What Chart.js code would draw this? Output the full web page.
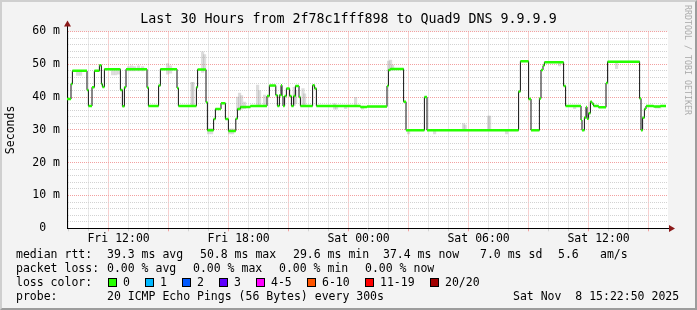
<html lang="en">
<head>
  <meta charset="UTF-8">
  <title>Quad9 DNS</title>
  <style>
    body { margin: 0; background: #fff; }
    #wrap { position: relative; width: 697px; height: 310px; background: #f3f3f3; font-family: "DejaVu Sans Mono", monospace; color: #000; }
    #wrap canvas { position: absolute; left: 0; top: 0; }
    .t { position: absolute; white-space: pre; font-size: 11.5px; line-height: 14px; }
    .box { position: absolute; width: 7px; height: 7px; border: 1px solid #000; }
    #frame { position: absolute; left: 0; top: 0; width: 697px; height: 310px; box-sizing: border-box;
      border-top: 2px solid #cfcfcf; border-left: 2px solid #cfcfcf; border-right: 2px solid #9c9c9c; border-bottom: 2px solid #9c9c9c; }
  </style>
</head>
<body>
<div id="wrap">
  <canvas id="chart" width="697" height="310"></canvas>
  <div class="t" style="left:0;width:697px;top:11px;font-size:13.3px;line-height:16px;text-align:center">Last 30 Hours from 2f78c1fff898 to Quad9 DNS 9.9.9.9</div>
  <div class="t" style="left:681px;top:5px;font-size:8.3px;line-height:10px;color:#ababab;transform-origin:0 0;transform:translate(12px,0) rotate(90deg)">RRDTOOL / TOBI OETIKER</div>
  <div id="legend"></div>
  <div id="frame"></div>
</div>
<script src="https://cdn.jsdelivr.net/npm/chart.js"></script>
<script>
  // time in hours since Fri 00:00, median rtt in ms
  const stepTimes = [9.42, 9.62, 9.69, 10.42, 10.49, 10.67, 10.79, 11.04, 11.14, 11.19, 11.29,
    12.09, 12.19, 12.29, 12.37, 13.42, 13.49, 14.00, 14.09, 14.92, 14.99, 15.89, 15.95,
    16.37, 16.44, 16.75, 16.84, 17.12, 17.34, 17.49, 17.86, 17.94, 18.09, 18.59,
    19.42, 19.54, 19.86, 19.94, 20.04, 20.12, 20.17, 20.22, 20.30, 20.39, 20.55, 20.64,
    20.75, 20.84, 21.02, 21.09, 21.70, 21.80, 21.89, 24.09, 24.42, 25.42, 25.49, 25.59,
    26.25, 26.37, 27.29, 27.42, 32.00, 32.09, 32.50, 32.62, 33.04, 33.12, 33.22, 33.29,
    34.25, 34.35, 35.12, 35.17, 35.29, 35.37, 35.42, 35.50, 35.59, 35.67, 35.75, 36.00,
    36.37, 36.45, 38.05, 38.12, 38.20, 38.29, 38.37, 38.75, 39.09];
  const stepValues = [39.4, 44, 48, 42.2, 37.3, 43, 48, 49.7, 44, 43.1, 48.5,
    42.2, 37.2, 43, 48.5, 42.9, 37.3, 43.5, 48.5, 42.8, 37.3, 43, 48.4,
    38.4, 29.9, 33.3, 36.4, 38.1, 33.3, 29.7, 33.4, 36.4, 37.0, 37.3,
    40.3, 43.5, 40.6, 37.3, 40.6, 43.6, 40.3, 37.3, 40.3, 42.6, 40.3, 37.3,
    40.3, 43.4, 40, 37.3, 43.6, 42.6, 37.3, 37.0, 37.1, 43.4, 48.3, 48.6,
    38.6, 29.9, 40, 29.9, 41.7, 50.9, 39.4, 29.9, 39.6, 48.3, 49.6, 50.6,
    43.4, 37.3, 33.0, 29.9, 33.8, 37, 33.4, 35.1, 38.6, 38, 37.3, 36.9,
    44.3, 50.8, 39.6, 29.9, 33.7, 36.4, 37.3, 37.1, 37.3];
  const endTime = 39.37;

  // ping spread ("smoke")
  const smokeTimes = [9.95, 10.1, 11.7, 11.85, 12.0, 12.5, 12.65, 12.8, 13.0, 13.2, 14.45, 14.6,
    15.67, 15.72, 16.2, 16.3, 16.5, 16.65, 17.55, 17.7, 17.95, 18.05, 18.15, 18.3,
    18.95, 19.05, 19.3, 20.78, 20.85, 21.22, 21.3, 22.8, 22.9, 23.35, 23.85, 24.2,
    25.5, 25.6, 25.7, 26.5, 27.8, 29.25, 29.33, 30.5, 30.55, 31.4, 34.05, 34.8, 36.9, 38.9, 39.05];
  const smokeLow = [46.6, 46.6, 46.8, 46.8, 47, 48, 48, 48, 48, 48, 47, 47.3,
    37.3, 37.3, 47.5, 48, 28.8, 28.8, 28.8, 28.8, 36, 36, 36.3, 36.5,
    37.3, 37.3, 37.3, 37.5, 38, 37.3, 37.3, 36.3, 36.3, 36.5, 37.3, 36.3,
    48, 48.3, 48.3, 28.8, 28.8, 29.9, 29.9, 29.9, 29.9, 28.8, 49.5, 36.5, 48.7, 36.6, 36.6];
  const smokeHigh = [48, 48, 48.5, 48.5, 48.5, 49.3, 49.5, 49.3, 49.5, 49.3, 50.2, 49.5,
    44.5, 44.5, 53.8, 53, 30.5, 30.5, 30.3, 30.3, 40, 41.2, 40.5, 38.5,
    43.7, 42, 40.6, 43, 42, 42.6, 41, 38, 37.5, 37.3, 39.9, 37.3,
    51, 51.3, 49.8, 30, 30, 31.9, 31.5, 34.2, 34.2, 30, 50.6, 37.3, 50.6, 37.3, 37.3];

  const dayNames = ['Fri', 'Sat'];
  const hourTicks = [];
  for (let h = 10; h <= 39; h++) hourTicks.push(h);

  const legendRows = [
    [[16, 'median rtt:'], [107, '39.3 ms avg'], [200, '50.8 ms max'], [293, '29.6 ms min'], [383, '37.4 ms now'], [480, '7.0 ms sd'], [558, '5.6'], [600, 'am/s']],
    [[16, 'packet loss:'], [107, '0.00 % avg'], [193, '0.00 % max'], [279, '0.00 % min'], [365, '0.00 % now']],
    [[16, 'loss color:']],
    [[16, 'probe:'], [107, '20 ICMP Echo Pings (56 Bytes) every 300s'], [513, 'Sat Nov  8 15:22:50 2025']]
  ];
  const lossLabels = ['0', '1', '2', '3', '4-5', '6-10', '11-19', '20/20'];
  const lossColors = ['#26ff00', '#00b8ff', '#0059ff', '#5e00ff', '#ff00ff', '#ff5500', '#ff0000', '#a10000'];
  const lossBoxX = [108, 145, 182, 219, 256, 307, 365, 430];

  // legend
  const leg = document.getElementById('legend');
  const rowY = [247, 261, 275, 289];
  legendRows.forEach((row, r) => {
    row.forEach(([x, txt]) => {
      const d = document.createElement('div');
      d.className = 't';
      d.style.left = x + 'px';
      d.style.top = rowY[r] + 'px';
      d.textContent = txt;
      leg.appendChild(d);
    });
  });
  lossLabels.forEach((lab, i) => {
    const b = document.createElement('div');
    b.className = 'box';
    b.style.left = lossBoxX[i] + 'px';
    b.style.top = '278px';
    b.style.background = lossColors[i];
    leg.appendChild(b);
    const d = document.createElement('div');
    d.className = 't';
    d.style.left = (lossBoxX[i] + 15) + 'px';
    d.style.top = rowY[2] + 'px';
    d.textContent = lab;
    leg.appendChild(d);
  });

  // black stepped median line + green (0 % loss) level pieces
  const medianLine = stepTimes.map((t, i) => ({x: t, y: stepValues[i]}));
  medianLine.push({x: endTime, y: stepValues[stepValues.length - 1]});
  const greenPieces = [];
  stepTimes.forEach((t, i) => {
    const t2 = i + 1 < stepTimes.length ? stepTimes[i + 1] : endTime;
    greenPieces.push({x: t, y: stepValues[i]}, {x: t2, y: stepValues[i]}, {x: t2, y: null});
  });
  const smoke = smokeTimes.map((t, i) => ({x: t, y: [smokeLow[i], smokeHigh[i]]}));

  const plotBg = {
    id: 'plotBg',
    beforeDraw(chart) {
      const {ctx, chartArea: a} = chart;
      ctx.save();
      ctx.fillStyle = '#fff';
      ctx.fillRect(a.left, a.top, a.right - a.left + 1, a.bottom - a.top);
      ctx.restore();
    },
    afterDraw(chart) {
      const {ctx, chartArea: a} = chart;
      const x0 = Math.round(a.left) + 0.5, y0 = Math.round(a.bottom) + 0.5;
      ctx.save();
      ctx.strokeStyle = '#000';
      ctx.lineWidth = 1;
      ctx.beginPath();
      ctx.moveTo(x0, a.top); ctx.lineTo(x0, a.top - 6);
      ctx.moveTo(a.right, y0); ctx.lineTo(a.right + 3, y0);
      ctx.stroke();
      ctx.fillStyle = '#8b1a1a';
      ctx.beginPath();
      ctx.moveTo(x0, a.top - 11); ctx.lineTo(x0 - 3.5, a.top - 5); ctx.lineTo(x0 + 3.5, a.top - 5); ctx.closePath();
      ctx.fill();
      ctx.beginPath();
      ctx.moveTo(a.right + 8, y0); ctx.lineTo(a.right + 2, y0 - 3.5); ctx.lineTo(a.right + 2, y0 + 3.5); ctx.closePath();
      ctx.fill();
      ctx.restore();
    }
  };

  const mono = "'DejaVu Sans Mono', monospace";
  const tickValue = c => (c.tick ? c.tick.value : NaN);

  new Chart(document.getElementById('chart'), {
    type: 'line',
    data: {
      datasets: [
        {type: 'bar', data: smoke, backgroundColor: 'rgba(170,170,170,0.4)', barThickness: 2.5, grouped: false, order: 3},
        {data: medianLine, borderColor: '#111', borderWidth: 1, stepped: true, pointRadius: 0, order: 2},
        {data: greenPieces, borderColor: '#26ff00', borderWidth: 2.5, pointRadius: 0, spanGaps: false, order: 1, borderCapStyle: 'butt'}
      ]
    },
    options: {
      responsive: false,
      animation: false,
      events: [],
      layout: {padding: {left: 0, right: 30, top: 31.5, bottom: 59.7}},
      plugins: {legend: {display: false}, tooltip: {enabled: false}},
      scales: {
        x: {
          type: 'linear', min: 9.42, max: 39.42, offset: false,
          afterFit(s) { s.height = 22; },
          afterBuildTicks(s) { s.ticks = hourTicks.map(v => ({value: v})); },
          ticks: {
            autoSkip: false, maxRotation: 0, padding: 1, color: '#000',
            font: {family: mono, size: 11.5},
            callback(v) {
              if (v % 6 !== 0) return '';
              const h = v % 24;
              return dayNames[Math.floor(v / 24)] + ' ' + String(h).padStart(2, '0') + ':00';
            }
          },
          grid: {
            tickLength: 3,
            color(c) {
              const v = tickValue(c);
              return v % 3 === 0 ? '#f2a0a0' : '#d2d2d2';
            }
          },
          border: {color: '#000', width: 1, dash: [1, 1]}
        },
        y: {
          min: 0, max: 60,
          afterFit(s) { s.width = 67; },
          title: {display: true, text: 'Seconds', color: '#000', font: {family: mono, size: 11.5}, padding: {top: 4, bottom: 0}},
          ticks: {
            stepSize: 2, autoSkip: false, padding: 7, color: '#000',
            font: {family: mono, size: 11.5},
            callback(v) {
              if (v % 10 !== 0) return '';
              return v === 0 ? '0  ' : v + ' m';
            }
          },
          grid: {
            drawTicks: false,
            color(c) { return tickValue(c) % 10 === 0 ? '#f2a0a0' : '#d2d2d2'; }
          },
          border: {color: '#000', width: 1, dash: [1, 1]}
        }
      }
    },
    plugins: [plotBg]
  });
</script>
</body>
</html>
